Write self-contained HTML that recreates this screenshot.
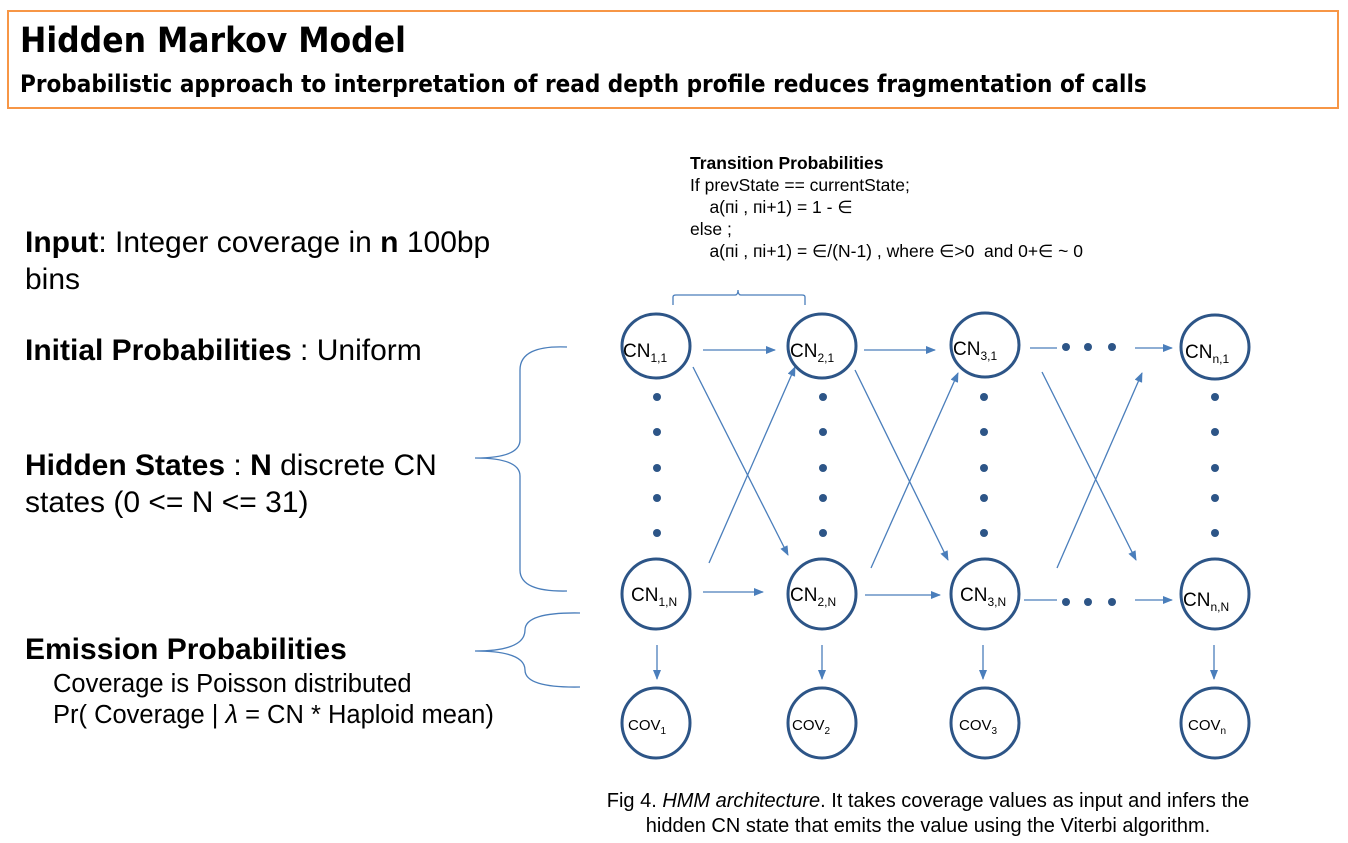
<!DOCTYPE html>
<html><head><meta charset="utf-8"><style>
body{margin:0;width:1348px;height:843px;background:#fff;overflow:hidden;font-family:"Liberation Sans",sans-serif;position:relative}
.box{position:absolute;left:7px;top:10px;width:1328px;height:95px;border:2px solid #f79646}
.t{position:absolute;color:#000;white-space:nowrap}
</style></head><body>
<div class="box"></div>
<div class="t" style="left:20px;top:21px;font-size:35px;font-weight:bold;font-family:'DejaVu Sans Condensed','Liberation Sans Narrow','Liberation Sans',sans-serif">Hidden Markov Model</div>
<div class="t" style="left:20px;top:70px;font-size:24px;font-weight:bold;font-family:'DejaVu Sans Condensed','Liberation Sans Narrow','Liberation Sans',sans-serif">Probabilistic approach to interpretation of read depth profile reduces fragmentation of calls</div>

<div class="t" style="left:25px;top:224px;font-size:30px;line-height:37px"><b>Input</b>: Integer coverage in <b>n</b> 100bp<br>bins</div>
<div class="t" style="left:25px;top:334px;font-size:30px"><b>Initial Probabilities</b> : Uniform</div>
<div class="t" style="left:25px;top:447px;font-size:30px;line-height:37px"><b>Hidden States</b> : <b>N</b> discrete CN<br>states (0 &lt;= N &lt;= 31)</div>
<div class="t" style="left:25px;top:633px;font-size:30px"><b>Emission Probabilities</b></div>
<div class="t" style="left:53px;top:669px;font-size:25.5px;line-height:31px">Coverage is Poisson distributed<br>Pr( Coverage | <i>λ</i> = CN * Haploid mean)</div>

<div class="t" style="left:690px;top:152px;font-size:17.5px;line-height:22px"><b>Transition Probabilities</b><br>If prevState == currentState;<br>&nbsp;&nbsp;&nbsp;&nbsp;a(пi , пi+1) = 1 - ∈<br>else ;<br>&nbsp;&nbsp;&nbsp;&nbsp;a(пi , пi+1) = ∈/(N-1) , where ∈&gt;0&nbsp; and 0+∈ ~ 0</div>

<div class="t" style="left:530px;top:789px;width:796px;text-align:center;font-size:20px;line-height:25px">Fig 4. <i>HMM architecture</i>. It takes coverage values as input and infers the<br>hidden CN state that emits the value using the Viterbi algorithm.</div>

<svg width="1348" height="843" style="position:absolute;left:0;top:0">
<defs><marker id="a" markerWidth="10" markerHeight="8" refX="9" refY="4" orient="auto" markerUnits="userSpaceOnUse"><path d="M0,0 L10,4 L0,8z" fill="#4a7ebb"/></marker>
<g id="d"><circle cx="0" cy="397" r="4"/><circle cx="0" cy="432" r="4"/><circle cx="0" cy="468" r="4"/><circle cx="0" cy="498" r="4"/><circle cx="0" cy="533" r="4"/></g></defs>
<g fill="none" stroke="#4a7ebb" stroke-width="1.3">
<path d="M673,305 V297 Q673,295 676,295 H735 Q738,295 738,290 Q738,295 741,295 H802 Q805,295 805,297 V305"/>
<path d="M567,347 Q520,345 520,370 V440 Q520,458 475,458 Q520,458 520,476 V570 Q520,592 567,591"/>
<path d="M580,613 Q525,612 525,630 Q525,651 475,651 Q525,651 525,670 Q525,688 580,687"/>
<g marker-end="url(#a)">
<line x1="703" y1="350" x2="775" y2="350"/><line x1="864" y1="350" x2="935" y2="350"/><line x1="1135" y1="348" x2="1172" y2="348"/>
<line x1="703" y1="592" x2="763" y2="592"/><line x1="865" y1="595" x2="940" y2="595"/><line x1="1135" y1="600" x2="1172" y2="600"/>
<line x1="693" y1="367" x2="788" y2="555"/><line x1="709" y1="563" x2="795" y2="367"/>
<line x1="855" y1="370" x2="948" y2="560"/><line x1="871" y1="568" x2="958" y2="373"/>
<line x1="1042" y1="372" x2="1136" y2="560"/><line x1="1057" y1="568" x2="1142" y2="373"/>
<line x1="657" y1="645" x2="657" y2="679"/><line x1="822" y1="645" x2="822" y2="679"/><line x1="983" y1="645" x2="983" y2="679"/><line x1="1214" y1="645" x2="1214" y2="679"/>
</g>
<line x1="1030" y1="348" x2="1057" y2="348"/><line x1="1024" y1="600" x2="1057" y2="600"/>
</g>
<g fill="#fff" stroke="#2d5587" stroke-width="3">
<ellipse cx="656" cy="346" rx="34" ry="32"/><ellipse cx="822" cy="346" rx="34" ry="32"/><ellipse cx="985" cy="345" rx="34" ry="32"/><ellipse cx="1215" cy="347" rx="34" ry="32"/>
<ellipse cx="656" cy="594" rx="34" ry="35"/><ellipse cx="822" cy="594" rx="34" ry="35"/><ellipse cx="985" cy="594" rx="34" ry="35"/><ellipse cx="1215" cy="594" rx="34" ry="35"/>
<ellipse cx="656" cy="723" rx="34" ry="35"/><ellipse cx="822" cy="723" rx="34" ry="35"/><ellipse cx="985" cy="723" rx="34" ry="35"/><ellipse cx="1215" cy="723" rx="34" ry="35"/>
</g>
<g fill="#2d5587">
<use href="#d" x="657"/><use href="#d" x="823"/><use href="#d" x="984"/><use href="#d" x="1215"/>
<circle cx="1066" cy="347" r="4"/><circle cx="1088" cy="347" r="4"/><circle cx="1112" cy="347" r="4"/>
<circle cx="1066" cy="602" r="4"/><circle cx="1088" cy="602" r="4"/><circle cx="1112" cy="602" r="4"/>
</g>
<g font-family="Liberation Sans,sans-serif" font-size="19" fill="#000">
<text x="623" y="357">CN<tspan font-size="12" dy="5">1,1</tspan></text>
<text x="790" y="357">CN<tspan font-size="12" dy="5">2,1</tspan></text>
<text x="953" y="355">CN<tspan font-size="12" dy="5">3,1</tspan></text>
<text x="1185" y="358">CN<tspan font-size="12" dy="5">n,1</tspan></text>
<text x="631" y="601">CN<tspan font-size="12" dy="5">1,N</tspan></text>
<text x="790" y="601">CN<tspan font-size="12" dy="5">2,N</tspan></text>
<text x="960" y="601">CN<tspan font-size="12" dy="5">3,N</tspan></text>
<text x="1183" y="606">CN<tspan font-size="12" dy="5">n,N</tspan></text>
<g font-size="15"><text x="628" y="730">COV<tspan font-size="10" dy="4">1</tspan></text>
<text x="792" y="730">COV<tspan font-size="10" dy="4">2</tspan></text>
<text x="959" y="730">COV<tspan font-size="10" dy="4">3</tspan></text>
<text x="1188" y="730">COV<tspan font-size="10" dy="4">n</tspan></text></g>
</g>
</svg>
</body></html>
